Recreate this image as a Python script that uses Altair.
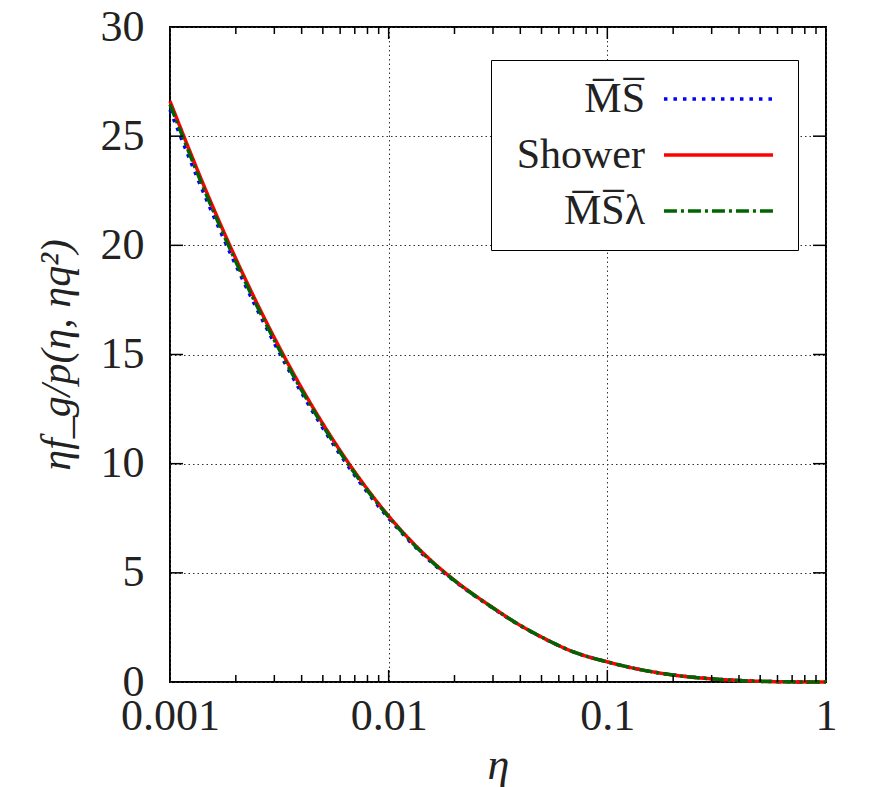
import altair as alt
import pandas as pd

eta = [0.001, 0.0015, 0.002, 0.003, 0.004, 0.005, 0.007, 0.01, 0.015, 0.02, 0.03,
       0.04, 0.05, 0.07, 0.1, 0.15, 0.2, 0.3, 0.4, 0.5, 0.7, 1.0]
ms = [26.2, 21.88, 19.09, 15.52, 13.24, 11.63, 9.46, 7.5, 5.66, 4.62, 3.38,
      2.58, 2.05, 1.38, 0.92, 0.52, 0.32, 0.145, 0.069, 0.031, 0.006, 0.0]
shower = [26.6, 22.23, 19.39, 15.77, 13.46, 11.83, 9.62, 7.6, 5.73, 4.66, 3.4,
          2.59, 2.06, 1.38, 0.92, 0.52, 0.32, 0.145, 0.069, 0.031, 0.006, 0.0]
ms_lambda = [26.45, 22.08, 19.25, 15.65, 13.36, 11.74, 9.55, 7.56, 5.7, 4.64, 3.39,
             2.59, 2.06, 1.38, 0.92, 0.52, 0.32, 0.145, 0.069, 0.031, 0.006, 0.0]

series_names = ["M\u0305S\u0305", "Shower", "M\u0305S\u0305\u03bb"]
series_colors = ["#0000ff", "#ff0000", "#006400"]
series_dashes = [[3.5, 6], [1, 0], [13, 4, 3, 4]]

x_labels = [0.001, 0.01, 0.1, 1]
y_labels = [0, 5, 10, 15, 20, 25, 30]
x_minor = [m * d for d in [0.001, 0.01, 0.1] for m in range(2, 10)]
y_major_inner = [5, 10, 15, 20, 25]

rows = []
for name, vals in zip(series_names, [ms, shower, ms_lambda]):
    for e, v in zip(eta, vals):
        rows.append({"eta": e, "f": v, "series": name})
df = pd.DataFrame(rows)

W, H = 656, 655
FONT = "Liberation Serif"
TXT = "#222222"

xscale = alt.Scale(type="log", domain=[0.001, 1])
yscale = alt.Scale(domain=[0, 30])

leg = alt.Legend(title=None, orient="none", legendX=321, legendY=33)

lines = alt.Chart(df).mark_line(strokeWidth=3.5, interpolate="monotone").encode(
    x=alt.X("eta:Q", scale=xscale,
            axis=alt.Axis(values=x_labels, format="~g", title="η", labelFlush=False,
                          titleFontStyle="italic", titleFontWeight="normal")),
    y=alt.Y("f:Q", scale=yscale,
            axis=alt.Axis(values=y_labels, title="ηf_g/p(η, ηq²)",
                          titleFontStyle="italic", titleFontWeight="normal")),
    color=alt.Color("series:N", sort=series_names,
                    scale=alt.Scale(domain=series_names, range=series_colors),
                    legend=leg),
    strokeDash=alt.StrokeDash("series:N", sort=series_names,
                              scale=alt.Scale(domain=series_names, range=series_dashes),
                              legend=leg),
    order=alt.Order("eta:Q"),
)

xmaj = pd.DataFrame({"v": x_labels[1:-1]})
xmin = pd.DataFrame({"v": x_minor})
ymaj = pd.DataFrame({"v": y_major_inner})

def xticks(data, length):
    base = alt.Chart(data).mark_rule(color="black", strokeWidth=1.5)
    top = base.encode(x=alt.X("v:Q", scale=xscale), y=alt.value(0), y2=alt.value(length))
    bot = base.encode(x=alt.X("v:Q", scale=xscale), y=alt.value(H), y2=alt.value(H - length))
    return top + bot

ymajor_base = alt.Chart(ymaj).mark_rule(color="black", strokeWidth=1.5)
yl = ymajor_base.encode(y=alt.Y("v:Q", scale=yscale), x=alt.value(0), x2=alt.value(13))
yr = ymajor_base.encode(y=alt.Y("v:Q", scale=yscale), x=alt.value(W), x2=alt.value(W - 13))

chart = alt.layer(
    lines, xticks(xmaj, 12), xticks(xmin, 7), yl, yr
).resolve_scale(x="shared", y="shared").properties(
    width=W, height=H,
    autosize=alt.AutoSizeParams(type="none"),
    padding={"left": 162, "top": 19, "right": 30, "bottom": 105},
).configure_view(
    stroke="black", strokeWidth=2
).configure_axis(
    domain=False, ticks=False, grid=True,
    gridDash=[1.5, 3], gridColor="#333333", gridWidth=1, gridOpacity=1,
    labelFont=FONT, labelFontSize=44, labelColor=TXT,
    titleFont=FONT, titleFontSize=42, titleColor=TXT,
).configure_axisX(
    labelPadding=12, titlePadding=5, titleFontSize=44,
).configure_axisY(
    labelPadding=26, titlePadding=22,
).configure_legend(
    labelFont=FONT, labelFontSize=42, labelColor=TXT, labelAlign="right",
    symbolType="M8.93,0H16.2", symbolSize=900, symbolStrokeWidth=3.5,
    strokeColor="black", fillColor="white", padding=18, rowPadding=14,
    labelOffset=94, cornerRadius=0, labelLimit=400,
)

chart.save("out.html", embed_options={"renderer": "svg", "actions": False})
